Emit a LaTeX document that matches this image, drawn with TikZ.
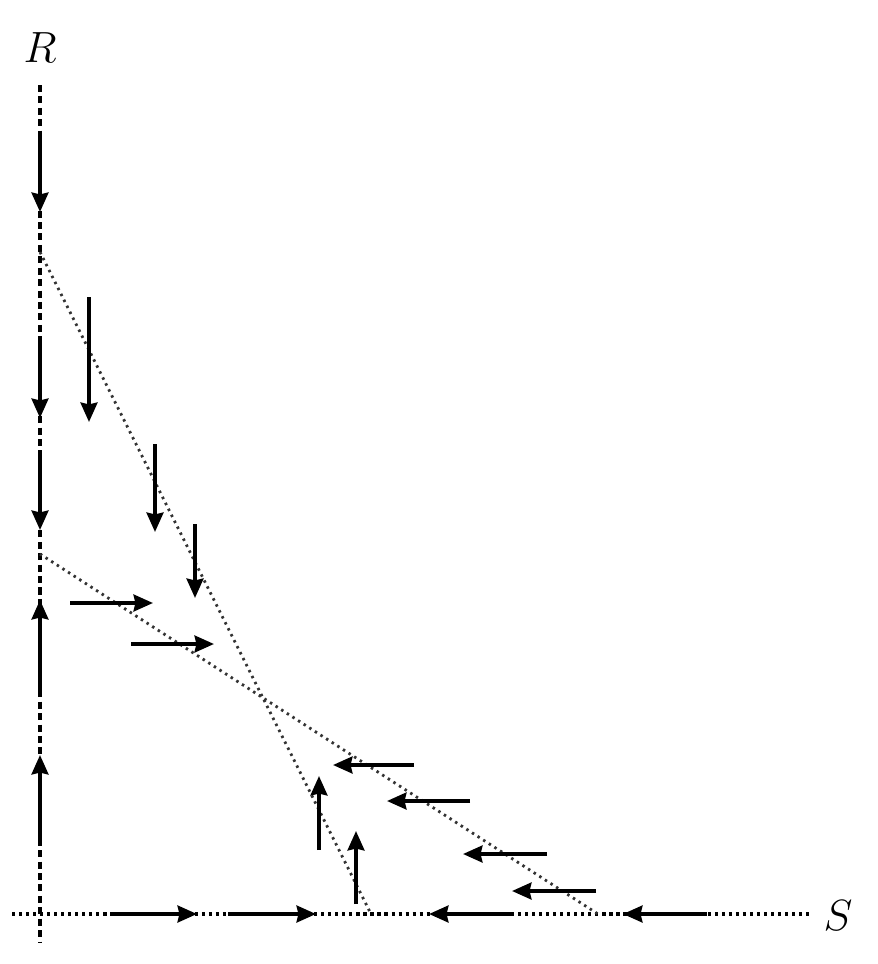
\documentclass[tikz,border=0pt]{standalone}
\usetikzlibrary{arrows.meta}

\begin{document}
\begin{tikzpicture}[
  x=0.02cm, y=-0.02cm,
  >={Stealth[length=11pt,width=9.5pt,inset=1pt]},
  flow/.style={->, line width=2.2pt},
  axisdash/.style={line width=1.8pt, dash pattern=on 4pt off 2.5pt},
  axisdot/.style={line width=1.8pt, dash pattern=on 1.8pt off 2.2pt},
  nullcline/.style={line width=1.6pt, gray!40!black, dash pattern=on 1.4pt off 2.4pt}
  ]
\useasboundingbox (0,0) rectangle (878,964);
% axes
\draw [axisdash] (40,85) -- (40,942);
\draw [axisdot] (12,914) -- (810,914);
\node (lblR) at (40,48) {\fontsize{25}{30}\selectfont\(R\)};
\node (lblS) at (838,916) {\fontsize{25}{30}\selectfont\(S\)};
% nullclines
\draw [nullcline] (40,252) -- (371,914);
\draw [nullcline] (40,554) -- (598,914);
% arrows on the R axis
\draw [flow] (40,138) -- (40,212);
\draw [flow] (40,340) -- (40,418);
\draw [flow] (40,452) -- (40,530);
\draw [flow] (40,690) -- (40,600);
\draw [flow] (40,845) -- (40,755);
% arrows on the S axis
\draw [flow] (110,914) -- (197,914);
\draw [flow] (228,914) -- (316,914);
\draw [flow] (511,914) -- (429,914);
\draw [flow] (707,914) -- (623,914);
% downward
\draw [flow] (89,297) -- (89,422);
\draw [flow] (155,444) -- (155,532);
\draw [flow] (195,524) -- (195,598);
% rightward
\draw [flow] (70,603) -- (153,603);
\draw [flow] (131,644) -- (214,644);
% leftward
\draw [flow] (414,765) -- (333,765);
\draw [flow] (470,801) -- (387,801);
\draw [flow] (547,854) -- (463,854);
\draw [flow] (596,891) -- (512,891);
% upward
\draw [flow] (319,850) -- (319,776);
\draw [flow] (356,904) -- (356,831);
\end{tikzpicture}
\end{document}
